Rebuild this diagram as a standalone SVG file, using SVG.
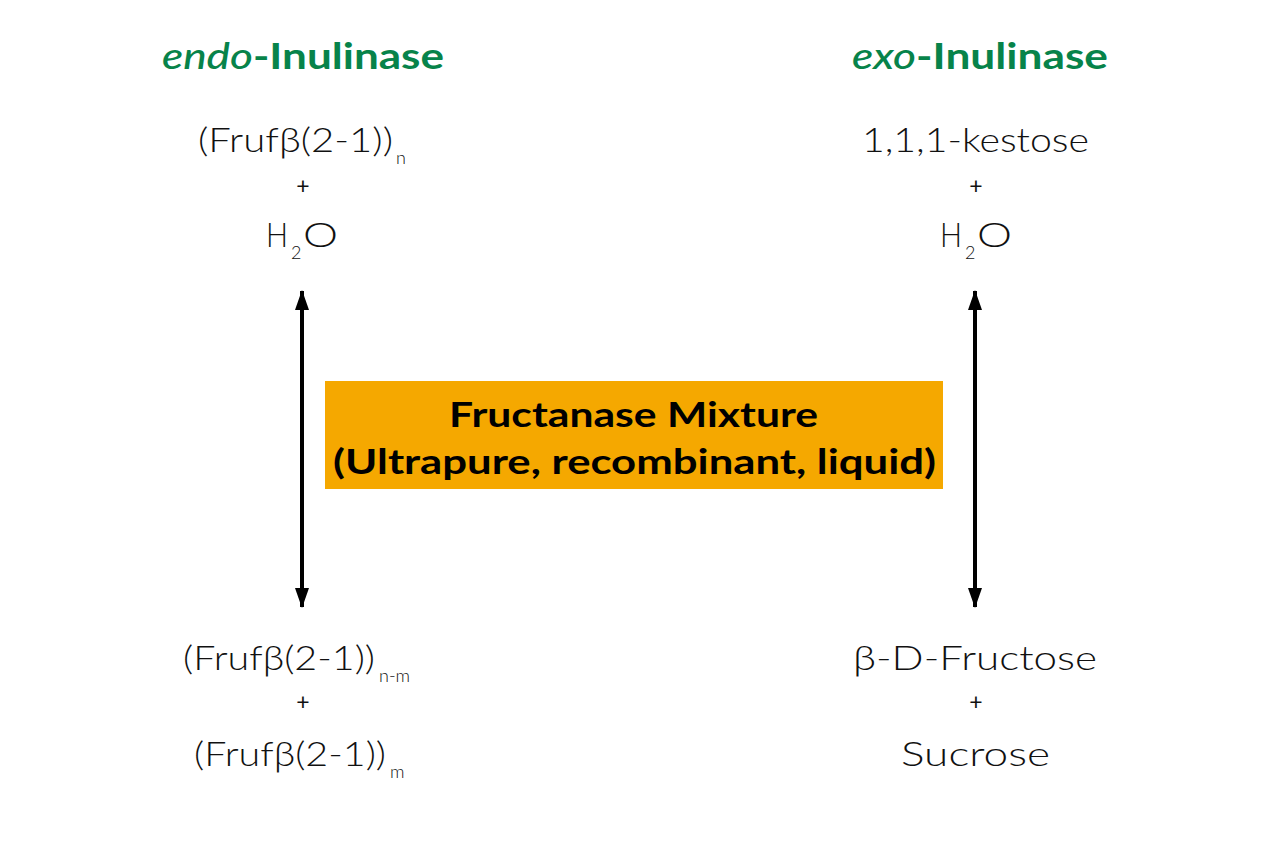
<svg xmlns="http://www.w3.org/2000/svg" width="1280" height="853" viewBox="0 0 1280 853">
<style>
.t{font-family:Lato,"Open Sans","Liberation Sans",sans-serif;font-weight:300;fill:#111}
.big{font-size:33px}
.sub{font-size:18px}
.plus{font-size:23px;font-weight:400;text-anchor:middle}
.hd{font-family:Lato,"Open Sans","Liberation Sans",sans-serif;font-weight:700;font-size:36px;fill:#07834A}
.box{font-family:Lato,"Open Sans","Liberation Sans",sans-serif;font-weight:700;font-size:34px;fill:#000}
.arr{stroke:#000;stroke-width:4;fill:none}
</style>
<defs>
<marker id="a" viewBox="0 0 20 14" refX="19" refY="7" markerWidth="20" markerHeight="14" markerUnits="userSpaceOnUse" orient="auto-start-reverse">
<path d="M0,0 L20,7 L0,14 z" fill="#000"/>
</marker>
</defs>
<g id="endo-title"><text class="hd" x="162" y="69" textLength="282" lengthAdjust="spacingAndGlyphs"><tspan font-style="italic" font-weight="500">endo</tspan>-Inulinase</text></g>
<g id="exo-title"><text class="hd" x="852" y="69" textLength="256" lengthAdjust="spacingAndGlyphs"><tspan font-style="italic" font-weight="500">exo</tspan>-Inulinase</text></g>
<g id="endo-substrate">
<text class="t big" x="198" y="152" textLength="195" lengthAdjust="spacingAndGlyphs">(Frufβ(2-1))</text>
<text class="t sub" x="396" y="164">n</text>
<text class="t plus" x="303" y="194">+</text>
<text class="t big" x="266" y="247" textLength="22" lengthAdjust="spacingAndGlyphs">H</text>
<text class="t sub" x="291" y="259">2</text>
<text class="t big" x="303" y="247" textLength="35" lengthAdjust="spacingAndGlyphs">O</text>
</g>
<g id="exo-substrate">
<text class="t big" x="862" y="152" textLength="227" lengthAdjust="spacingAndGlyphs">1,1,1-kestose</text>
<text class="t plus" x="976" y="194">+</text>
<text class="t big" x="940" y="247" textLength="22" lengthAdjust="spacingAndGlyphs">H</text>
<text class="t sub" x="965" y="259">2</text>
<text class="t big" x="977" y="247" textLength="35" lengthAdjust="spacingAndGlyphs">O</text>
</g>
<g id="mixture">
<rect x="325" y="381" width="618" height="108" fill="#F5A800"/>
<text class="box" x="449" y="427" textLength="369" lengthAdjust="spacingAndGlyphs">Fructanase Mixture</text>
<text class="box" x="333" y="474" textLength="603" lengthAdjust="spacingAndGlyphs">(Ultrapure, recombinant, liquid)</text>
</g>
<g id="endo-products">
<text class="t big" x="183" y="670" textLength="192" lengthAdjust="spacingAndGlyphs">(Frufβ(2-1))</text>
<text class="t sub" x="379" y="682">n-m</text>
<text class="t plus" x="303" y="710">+</text>
<text class="t big" x="194" y="766" textLength="192" lengthAdjust="spacingAndGlyphs">(Frufβ(2-1))</text>
<text class="t sub" x="390" y="778">m</text>
</g>
<g id="exo-products">
<text class="t big" x="853" y="670" textLength="244" lengthAdjust="spacingAndGlyphs">β-D-Fructose</text>
<text class="t plus" x="976" y="710">+</text>
<text class="t big" x="901" y="766" textLength="149" lengthAdjust="spacingAndGlyphs">Sucrose</text>
</g>
<g id="connectors">
<line class="arr" x1="302" y1="291" x2="302" y2="607" marker-start="url(#a)" marker-end="url(#a)"/>
<line class="arr" x1="975" y1="291" x2="975" y2="607" marker-start="url(#a)" marker-end="url(#a)"/>
</g>
</svg>
